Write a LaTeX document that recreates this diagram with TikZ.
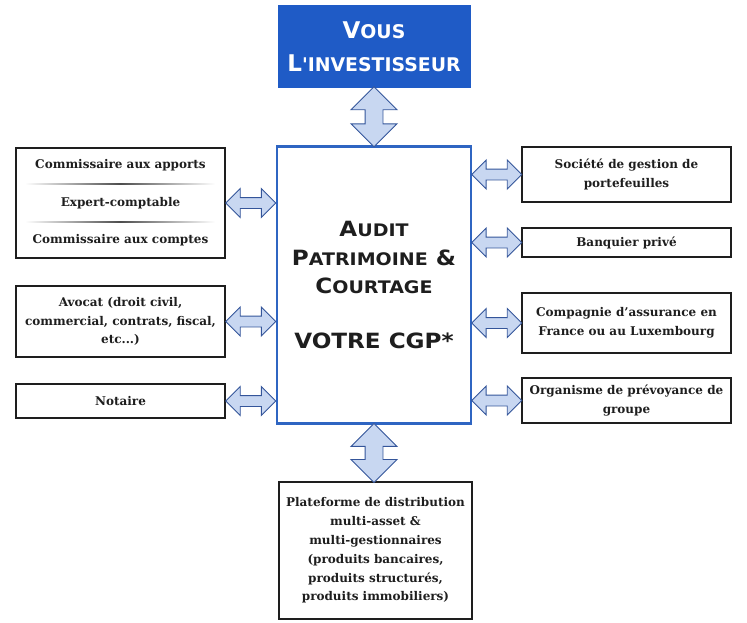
\documentclass[tikz,border=0pt]{standalone}
\usepackage{fontspec}
\usepackage{relsize}
\setmainfont{DejaVu Serif}
\newfontfamily\capsfont{DejaVu Sans}
\newfontfamily\centrefont[FakeStretch=1.1]{DejaVu Sans}
\usetikzlibrary{calc,positioning,shapes.arrows}
\definecolor{cgpBlue}{HTML}{1F5BC6}
\definecolor{cgpFrame}{HTML}{2F65C2}
\definecolor{cgpArrow}{HTML}{C8D7F1}
\definecolor{cgpArrowLine}{HTML}{34559A}
\definecolor{cgpInk}{HTML}{1E1E1E}
\newcommand{\fsc}[2]{#1{\relscale{0.82}#2}}
\tikzset{
  cgp diagram/.style={x=1pt, y=-1pt, text=cgpInk},
  cgp box/.style={draw=cgpInk, fill=white, line width=1.4pt, align=center,
    inner sep=2pt, minimum width=209pt,
    font=\bfseries\fontsize{12}{18.8}\selectfont},
  cgp top/.style={fill=cgpBlue, text=white, align=center, inner sep=0pt,
    minimum width=193pt, minimum height=83pt,
    font=\capsfont\bfseries\fontsize{23}{33}\selectfont},
  cgp centre/.style={draw=cgpFrame, fill=white, line width=2.2pt, align=center,
    minimum width=194pt, minimum height=277pt,
    font=\centrefont\bfseries\fontsize{21}{28.5}\selectfont},
  cgp link/.style={double arrow, draw=cgpArrowLine, fill=cgpArrow, line width=0.9pt,
    inner sep=5pt, double arrow head extend=9pt},
  cgp vlink/.style={cgp link, rotate=90, inner sep=8.5pt,
    double arrow head extend=14pt},
  cgp rule/.style={left color=white, right color=white, middle color=black!70}
}
\begin{document}
\begin{tikzpicture}[cgp diagram]
\useasboundingbox (0,0) rectangle (747,622);
% investor and advisor
\node[cgp top] (you) at (374,46.5) {\fsc{V}{OUS}\\\fsc{L}{'INVESTISSEUR}};
\node[cgp centre] (cgp) at (374,285) {\fsc{A}{UDIT}\\\fsc{P}{ATRIMOINE} \&\\\fsc{C}{OURTAGE}\\[26pt]VOTRE CGP*};
% left partners
\node[cgp box, minimum height=110pt, font=\bfseries\fontsize{12}{37.5}\selectfont] (experts) at (120.5,203)
  {Commissaire aux apports\\Expert-comptable\\Commissaire aux comptes};
\shade[cgp rule] (25,183.4) rectangle (215,184.8);
\shade[cgp rule] (25,221.4) rectangle (215,222.8);
\node[cgp box, minimum height=71pt] (lawyer) at (120.5,321.5)
  {Avocat (droit civil,\\commercial, contrats, fiscal,\\etc...)};
\node[cgp box, minimum height=34pt] (notary) at (120.5,401) {Notaire};
% right partners
\node[cgp box, minimum height=55pt] (sgp) at (626.5,174.5) {Société de gestion de\\portefeuilles};
\node[cgp box, minimum height=29pt] (bank) at (626.5,242.5) {Banquier privé};
\node[cgp box, minimum height=60pt] (insurer) at (626.5,323) {Compagnie d’assurance en\\France ou au Luxembourg};
\node[cgp box, minimum height=45pt] (welfare) at (626.5,400.5) {Organisme de prévoyance de\\groupe};
% platform
\node[cgp box, minimum width=193pt, minimum height=137pt] (platform) at (375.5,550.5)
  {Plateforme de distribution\\multi-asset \&\\multi-gestionnaires\\(produits bancaires,\\produits structurés,\\produits immobiliers)};
% links
\node[cgp vlink, minimum height=60pt] (l-you) at ($(you.south)!0.5!(cgp.north)$) {};
\node[cgp vlink, minimum height=59pt] (l-platform) at ($(cgp.south)!0.5!(cgp.south |- platform.north)$) {};
\foreach \partner in {experts,lawyer,notary}
  \node[cgp link, minimum height=50pt] (l-\partner) at ($(\partner.east)!0.5!(cgp.west |- \partner.east)$) {};
\foreach \partner in {sgp,bank,insurer,welfare}
  \node[cgp link, minimum height=50pt] (l-\partner) at ($(\partner.west)!0.5!(cgp.east |- \partner.west)$) {};
\end{tikzpicture}
\end{document}
